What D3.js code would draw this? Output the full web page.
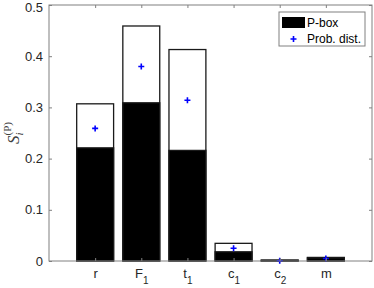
<!DOCTYPE html>
<html>
<head>
<meta charset="utf-8">
<script src="https://cdn.jsdelivr.net/npm/d3@7"></script>
<style>
	body { margin: 0; background: #fff; }
	svg { display: block; }
	.tick text { font-family: "Liberation Sans", Arial, sans-serif; font-size: 13px; fill: #262626; }
</style>
</head>
<body>
<script>
(function() {

	var labels = ['r', 'F', 't', 'c', 'c', 'm'];
	var subs = ['', '1', '1', '1', '2', ''];
	var pboxUpper = [0.307, 0.459, 0.413, 0.0345, 0.002, 0.007];
	var pboxLower = [0.221, 0.309, 0.216, 0.018, 0.001, 0.006];
	var probDist = [0.259, 0.380, 0.314, 0.025, 0.0005, 0.005];
	var yTicks = [0, 0.1, 0.2, 0.3, 0.4, 0.5];

	var _width = 374;
	var _height = 288;
	var _left = 49, _right = 372, _top = 5, _bottom = 261;
	var _barWidth = 0.8;
	var _axisColor = '#808080';

	var svg = d3.select('body').append('svg')
		.attr('width', _width)
		.attr('height', _height);

	var x = d3.scaleLinear().domain([0, labels.length + 1]).range([_left, _right]);
	var y = d3.scaleLinear().domain([0, 0.5]).range([_bottom, _top]);
	var xTicks = labels.map(function(d, i) { return i + 1; });
	var bw = x(_barWidth) - x(0);

	// Upper bound bars (white)
	svg.append('g').selectAll('rect')
		.data(pboxUpper)
		.enter()
		.append('rect')
		.attr('x', function(d, i) { return x(i + 1) - bw / 2; })
		.attr('y', function(d) { return y(d); })
		.attr('width', bw)
		.attr('height', function(d) { return y(0) - y(d); })
		.attr('fill', '#fff')
		.attr('stroke', '#1a1a1a')
		.attr('stroke-width', 1.3);

	// Lower bound bars (black)
	svg.append('g').selectAll('rect')
		.data(pboxLower)
		.enter()
		.append('rect')
		.attr('x', function(d, i) { return x(i + 1) - bw / 2; })
		.attr('y', function(d) { return y(d); })
		.attr('width', bw)
		.attr('height', function(d) { return y(0) - y(d); })
		.attr('fill', '#000')
		.attr('stroke', '#1a1a1a')
		.attr('stroke-width', 1.3);

	// Prob. dist. markers
	function plus(g, cx, cy) {
		g.append('path')
			.attr('d', 'M' + (cx - 3) + ',' + cy + 'H' + (cx + 3) + 'M' + cx + ',' + (cy - 3) + 'V' + (cy + 3))
			.attr('stroke', '#0000ff')
			.attr('stroke-width', 1.6)
			.attr('fill', 'none');
	}
	var marks = svg.append('g');
	probDist.forEach(function(d, i) { plus(marks, x(i + 1), y(d)); });

	// Axes
	function styleAxis(g) {
		g.select('.domain').remove();
		g.selectAll('.tick line').attr('stroke', _axisColor);
	}

	var yAxis = svg.append('g')
		.attr('transform', 'translate(' + _left + ',0)')
		.call(d3.axisLeft(y).tickValues(yTicks).tickSize(-3).tickPadding(6)
			.tickFormat(function(d) { return String(d); }))
		.call(styleAxis);
	// keep top label inside the picture
	yAxis.selectAll('.tick text').filter(function(d) { return d === 0.5; }).attr('y', 2);

	svg.append('g')
		.attr('transform', 'translate(' + _right + ',0)')
		.call(d3.axisRight(y).tickValues(yTicks).tickSize(-3).tickFormat(''))
		.call(styleAxis);

	var xAxis = svg.append('g')
		.attr('transform', 'translate(0,' + _bottom + ')')
		.call(d3.axisBottom(x).tickValues(xTicks).tickSize(-3).tickPadding(8)
			.tickFormat(''))
		.call(styleAxis);

	xAxis.selectAll('.tick text').each(function(d) {
		var t = d3.select(this).attr('dy', '0.71em').attr('y', 8);
		t.append('tspan').text(labels[d - 1]);
		if (subs[d - 1])
			t.append('tspan').attr('dy', 6).attr('font-size', 10).text(subs[d - 1]);
	});

	svg.append('g')
		.attr('transform', 'translate(0,' + _top + ')')
		.call(d3.axisTop(x).tickValues(xTicks).tickSize(-3).tickFormat(''))
		.call(styleAxis);

	svg.append('rect')
		.attr('x', _left)
		.attr('y', _top)
		.attr('width', _right - _left)
		.attr('height', _bottom - _top)
		.attr('fill', 'none')
		.attr('stroke', _axisColor)
		.attr('stroke-width', 1);

	// Y label
	var yl = svg.append('text')
		.attr('transform', 'translate(19,' + ((_top + _bottom) / 2) + ') rotate(-90)')
		.attr('text-anchor', 'middle')
		.attr('font-family', '"Liberation Serif", "DejaVu Serif", serif')
		.attr('font-size', 17)
		.attr('fill', '#404040');
	yl.append('tspan').attr('font-style', 'italic').text('S');
	yl.append('tspan').attr('font-style', 'italic').attr('font-size', 11).attr('dy', 4).text('i');
	yl.append('tspan').attr('font-size', 11).attr('dx', -3).attr('dy', -12).text('(P)');

	// Legend
	var lg = svg.append('g');
	lg.append('rect')
		.attr('x', 279).attr('y', 12).attr('width', 86).attr('height', 34)
		.attr('fill', '#fff').attr('stroke', _axisColor).attr('stroke-width', 1);
	lg.append('rect')
		.attr('x', 282).attr('y', 17).attr('width', 23).attr('height', 11)
		.attr('fill', '#000');
	plus(lg, 293.5, 39);
	lg.append('text').attr('x', 307).attr('y', 22.5).attr('dy', '0.35em')
		.attr('font-family', '"Liberation Sans", Arial, sans-serif').attr('font-size', 12)
		.attr('fill', '#000').text('P-box');
	lg.append('text').attr('x', 307).attr('y', 39).attr('dy', '0.35em')
		.attr('font-family', '"Liberation Sans", Arial, sans-serif').attr('font-size', 12)
		.attr('fill', '#000').text('Prob. dist.');

})();
</script>
</body>
</html>
